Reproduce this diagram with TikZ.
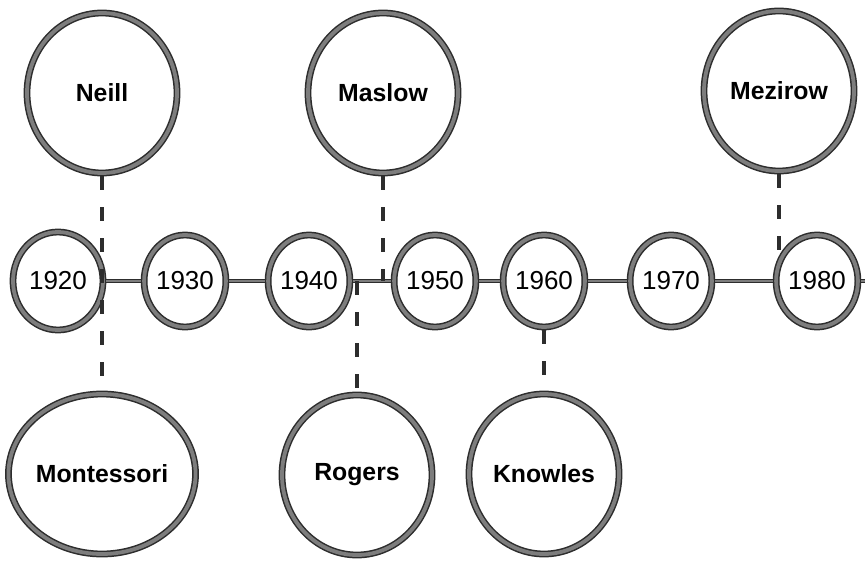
\documentclass[tikz,border=0pt]{standalone}
\usepackage{fontspec}
\setmainfont{Liberation Sans}
\usetikzlibrary{shapes.geometric}
\definecolor{cRing}{RGB}{45,45,45}
\definecolor{cGrain}{RGB}{125,125,125}
\tikzset{
	ring/.style     ={ellipse, draw=cRing, line width=0.75pt, double=cGrain, double distance=1.9pt, outer sep=1.7pt, inner sep=0pt, fill=white},
	person/.style   ={ring, minimum width=75pt, minimum height=80pt, font=\fontsize{12.4}{14}\selectfont\bfseries},
	decade/.style   ={ring, minimum width=39pt, minimum height=46pt, font=\fontsize{13}{15}\selectfont},
	timeline/.style ={draw=cRing, line width=0.45pt, double=cGrain, double distance=1.1pt},
	dashlink/.style ={draw=cRing, line width=2pt, dash pattern=on 7pt off 8.5pt},
}

\begin{document}
\begin{tikzpicture}[x=0.5pt, y=0.5pt]
	\useasboundingbox (0,0) rectangle (865,568);
	% decades along the time line
	\node[decade, minimum width=45pt, minimum height=49pt] (yr1920) at (58,287) {1920};
	\foreach \yr/\xx in {1930/185, 1940/309, 1950/435, 1960/544, 1970/671, 1980/817}
		\node[decade] (yr\yr) at (\xx,287) {\yr};
	\coordinate (lineend) at (865,287);
	\foreach \a/\b in {1920/1930, 1930/1940, 1940/1950, 1950/1960, 1960/1970, 1970/1980}
		\draw[timeline] (yr\a) -- (yr\b);
	\draw[timeline] (yr1980) -- (lineend);
	% theorists above and below
	\node[person] (neill)      at (102,475) {Neill};
	\node[person] (maslow)     at (383,475) {Maslow};
	\node[person] (mezirow)    at (779,477) {Mezirow};
	\node[person] (montessori) at (102,94)  {Montessori};
	\node[person] (rogers)     at (357,93)  {Rogers};
	\node[person] (knowles)    at (544,94)  {Knowles};
	% links to the time line
	\draw[dashlink] (neill) -- (montessori);
	\draw[dashlink] (maslow) -- (maslow |- yr1940);
	\draw[dashlink] (rogers |- yr1940) -- (rogers);
	\draw[dashlink] (yr1960) -- (knowles);
	\draw[dashlink] (mezirow) -- (mezirow |- yr1980.155);
\end{tikzpicture}
\end{document}
